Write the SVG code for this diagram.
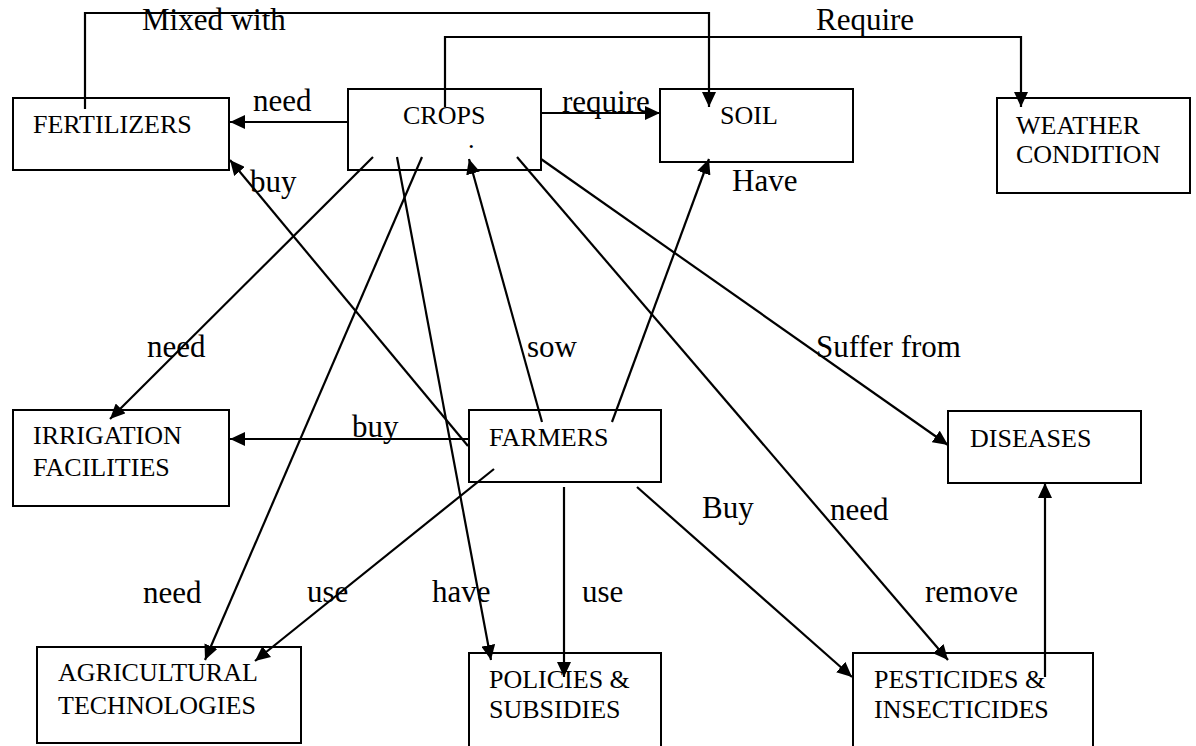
<svg xmlns="http://www.w3.org/2000/svg" width="1196" height="746" viewBox="0 0 1196 746">
<style>
.box{fill:#fff;stroke:#000;stroke-width:2}
.bt{font-family:'Liberation Serif',serif;font-size:26px;fill:#000}
.lb{font-family:'Liberation Serif',serif;font-size:31px;fill:#000}
.c{fill:none;stroke:#000;stroke-width:2.2;marker-end:url(#ah)}
</style>
<defs>
<marker id="ah" markerUnits="userSpaceOnUse" markerWidth="16" markerHeight="14" refX="15" refY="7" orient="auto">
<path d="M0,0 L15,7 L0,14 z" fill="#000"/>
</marker>
</defs>
<rect width="1196" height="746" fill="#fff"/>
<g id="fertilizers"><rect class="box" x="13" y="98" width="216" height="72"/><text class="bt" x="33" y="133">FERTILIZERS</text></g>
<g id="crops"><rect class="box" x="348" y="89" width="193" height="81"/><text class="bt" x="403" y="124">CROPS</text><text class="bt" x="468" y="148" font-size="9">.</text></g>
<g id="soil"><rect class="box" x="660" y="89" width="193" height="73"/><text class="bt" x="720" y="124">SOIL</text></g>
<g id="weather"><rect class="box" x="997" y="98" width="193" height="95"/><text class="bt" x="1016" y="134">WEATHER</text><text class="bt" x="1016" y="163">CONDITION</text></g>
<g id="irrigation"><rect class="box" x="13" y="410" width="216" height="96"/><text class="bt" x="33" y="444">IRRIGATION</text><text class="bt" x="33" y="476">FACILITIES</text></g>
<g id="farmers"><rect class="box" x="469" y="410" width="192" height="72"/><text class="bt" x="489" y="446">FARMERS</text></g>
<g id="diseases"><rect class="box" x="948" y="411" width="193" height="72"/><text class="bt" x="970" y="447">DISEASES</text></g>
<g id="agricultural"><rect class="box" x="37" y="647" width="264" height="96"/><text class="bt" x="58" y="681">AGRICULTURAL</text><text class="bt" x="58" y="714">TECHNOLOGIES</text></g>
<g id="policies"><rect class="box" x="469" y="653" width="192" height="100"/><text class="bt" x="489" y="688">POLICIES &amp;</text><text class="bt" x="489" y="718">SUBSIDIES</text></g>
<g id="pesticides"><rect class="box" x="853" y="653" width="240" height="100"/><text class="bt" x="874" y="688">PESTICIDES &amp;</text><text class="bt" x="874" y="718">INSECTICIDES</text></g>
<g id="connectors">
<polyline class="c" points="85,109 85,13 709,13 709,107"/>
<polyline class="c" points="445,107 445,37 1021,37 1021,107"/>
<line class="c" x1="349" y1="122" x2="230" y2="122"/>
<line class="c" x1="541" y1="113" x2="660" y2="113"/>
<line class="c" x1="373" y1="157" x2="110" y2="419"/>
<line class="c" x1="422" y1="157" x2="205" y2="660"/>
<line class="c" x1="397" y1="157" x2="491" y2="660"/>
<line class="c" x1="542" y1="422" x2="469" y2="159"/>
<line class="c" x1="517" y1="157" x2="948" y2="660"/>
<line class="c" x1="541" y1="159" x2="948" y2="445"/>
<line class="c" x1="612" y1="422" x2="709" y2="159"/>
<line class="c" x1="468" y1="446" x2="230" y2="160"/>
<line class="c" x1="468" y1="439" x2="230" y2="439"/>
<line class="c" x1="494" y1="469" x2="255" y2="661"/>
<line class="c" x1="564" y1="487" x2="564" y2="677"/>
<line class="c" x1="637" y1="487" x2="852" y2="677"/>
<line class="c" x1="1045" y1="677" x2="1045" y2="483"/>
</g>
<g id="labels">
<text class="lb" x="142" y="30">Mixed with</text>
<text class="lb" x="816" y="30">Require</text>
<text class="lb" x="253" y="111">need</text>
<text class="lb" x="562" y="112">require</text>
<text class="lb" x="250" y="192">buy</text>
<text class="lb" x="732" y="191">Have</text>
<text class="lb" x="147" y="357">need</text>
<text class="lb" x="527" y="357">sow</text>
<text class="lb" x="816" y="357">Suffer from</text>
<text class="lb" x="352" y="437">buy</text>
<text class="lb" x="702" y="518">Buy</text>
<text class="lb" x="830" y="520">need</text>
<text class="lb" x="143" y="603">need</text>
<text class="lb" x="307" y="602">use</text>
<text class="lb" x="432" y="602">have</text>
<text class="lb" x="582" y="602">use</text>
<text class="lb" x="925" y="602">remove</text>
</g>
</svg>
